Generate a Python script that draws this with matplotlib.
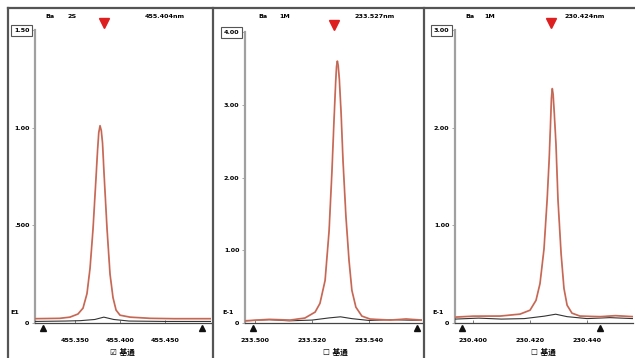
import matplotlib
matplotlib.use("Agg")
import matplotlib.pyplot as plt
from matplotlib.lines import Line2D

plt.rcParams['font.family'] = ['DejaVu Sans', 'Noto Sans CJK JP']

# ---------------- data ----------------
elements = ["Ba", "Ba", "Ba"]
orders = ["2S", "1M", "1M"]
wavelengths = ["455.404nm", "233.527nm", "230.424nm"]
checked = [True, False, False]
check_text = "基通"
scale_labels = ["E1", "E-1", "E-1"]

ylims = [1.5, 4.0, 3.0]
yticks = [[0, 0.5, 1.0, 1.5], [0, 1, 2, 3, 4], [0, 1, 2, 3]]
ytick_labels = [["0", ".500", "1.00", "1.50"],
                ["0", "1.00", "2.00", "3.00", "4.00"],
                ["0", "1.00", "2.00", "3.00"]]
xlims = [(455.3056, 455.501), (233.4965, 233.5586), (230.3937, 230.4561)]
xticks = [[455.350, 455.400, 455.450], [233.500, 233.520, 233.540], [230.400, 230.420, 230.440]]
xtick_labels = [["455.350", "455.400", "455.450"],
                ["233.500", "233.520", "233.540"],
                ["230.400", "230.420", "230.440"]]
peak_marker_x = [455.382, 233.5277, 230.4274]
window_x = [(455.3144, 455.491), (233.4993, 233.5569), (230.3961, 230.4446)]

# sample spectra
x1 = [455.3056, 455.3333, 455.3444, 455.3533, 455.3589, 455.3633, 455.3667, 455.3700,
      455.3733, 455.3750, 455.3764, 455.3778, 455.3792, 455.3806, 455.3822, 455.3856,
      455.3889, 455.3922, 455.3956, 455.4000, 455.4111, 455.4333, 455.4600, 455.5010]
y1 = [0.022, 0.024, 0.030, 0.046, 0.076, 0.150, 0.280, 0.480,
      0.740, 0.880, 0.975, 1.010, 0.985, 0.920, 0.770, 0.480,
      0.250, 0.130, 0.066, 0.040, 0.030, 0.024, 0.022, 0.022]
x2 = [233.4965, 233.5050, 233.5123, 233.5175, 233.5211, 233.5228, 233.5246, 233.5260,
      233.5270, 233.5277, 233.5283, 233.5286, 233.5289, 233.5292, 233.5296, 233.5302,
      233.5309, 233.5319, 233.5330, 233.5340, 233.5354, 233.5375, 233.5404, 233.5474,
      233.5530, 233.5586]
y2 = [0.030, 0.050, 0.040, 0.068, 0.150, 0.270, 0.585, 1.265,
      2.080, 2.760, 3.300, 3.520, 3.600, 3.540, 3.350, 2.900,
      2.220, 1.470, 0.857, 0.449, 0.218, 0.095, 0.054, 0.040,
      0.055, 0.040]
x3 = [230.3937, 230.4000, 230.4095, 230.4165, 230.4200, 230.4221, 230.4235, 230.4249,
      230.4260, 230.4267, 230.4272, 230.4275, 230.4278, 230.4281, 230.4285, 230.4291,
      230.4298, 230.4309, 230.4319, 230.4330, 230.4347, 230.4375, 230.4446, 230.4500,
      230.4561]
y3 = [0.060, 0.070, 0.071, 0.091, 0.131, 0.232, 0.404, 0.758,
      1.263, 1.667, 2.050, 2.300, 2.400, 2.340, 2.150, 1.830,
      1.263, 0.707, 0.354, 0.182, 0.101, 0.071, 0.065, 0.075,
      0.065]
# blank spectra
bx1 = [455.3056, 455.3390, 455.3560, 455.3720, 455.3820, 455.3930, 455.4100, 455.4500, 455.5010]
by1 = [0.008, 0.010, 0.012, 0.018, 0.030, 0.018, 0.010, 0.008, 0.008]
bx2 = [233.4965, 233.5050, 233.5120, 233.5200, 233.5260, 233.5300, 233.5340, 233.5400, 233.5480, 233.5586]
by2 = [0.030, 0.045, 0.030, 0.040, 0.070, 0.085, 0.060, 0.035, 0.045, 0.035]
bx3 = [230.3937, 230.4020, 230.4100, 230.4180, 230.4250, 230.4290, 230.4330, 230.4400, 230.4480, 230.4561]
by3 = [0.040, 0.050, 0.040, 0.045, 0.070, 0.090, 0.065, 0.045, 0.055, 0.045]

spectra = [(x1, y1), (x2, y2), (x3, y3)]
blanks = [(bx1, by1), (bx2, by2), (bx3, by3)]

# ---------------- layout ----------------
W, H = 635, 358
fig = plt.figure(figsize=(W / 100, H / 100), dpi=100)

panel_px = [(35, 211, 30), (245, 422, 32), (455, 633, 30)]  # left, right, top(px)
bottom_px = 323
head_px = [(50, 72, 165), (263, 285, 375), (470, 490, 585)]
scale_px = [15, 228, 438]
check_px = [122, 335, 543]

def fx(px):
    return px / W

def fy(py):
    return 1 - py / H

# panel frames
frame_col = '#555555'
fig.add_artist(Line2D([fx(8), fx(635)], [fy(8), fy(8)], color=frame_col, lw=1.6))
for vx in (8, 213, 424):
    fig.add_artist(Line2D([fx(vx), fx(vx)], [fy(8), fy(358)], color=frame_col, lw=1.6))

fs = 4.6
for i in range(3):
    l, r, t = panel_px[i]
    ax = fig.add_axes([fx(l), fy(bottom_px), (r - l) / W, (bottom_px - t) / H])
    ax.set_xlim(*xlims[i])
    ax.set_ylim(0, ylims[i])
    for s in ('top', 'right'):
        ax.spines[s].set_visible(False)
    ax.spines['left'].set_color('#a0a0a0')
    ax.spines['left'].set_linewidth(1.6)
    ax.spines['bottom'].set_color('#444444')
    ax.spines['bottom'].set_linewidth(0.9)

    ax.set_yticks(yticks[i])
    ax.set_yticklabels(ytick_labels[i], fontsize=fs, fontweight='bold')
    ax.tick_params(axis='y', direction='out', length=2.5, width=0.6, color='#999999', pad=1.5)
    ax.set_xticks(xticks[i])
    ax.set_xticklabels(xtick_labels[i], fontsize=fs, fontweight='bold')
    ax.tick_params(axis='x', direction='in', length=2, width=0.6, color='#666666', pad=11)
    top_lbl = ax.get_yticklabels()[-1]
    top_lbl.set_bbox(dict(boxstyle='square,pad=0.45', fc='white', ec='#555555', lw=0.8))

    bx, by = blanks[i]
    ax.plot(bx, by, color='#333333', lw=0.8, zorder=3)
    sx, sy = spectra[i]
    ax.plot(sx, sy, color='#e8735c', lw=1.3, zorder=4)
    ax.plot(sx, sy, color='#8a6a62', lw=0.5, zorder=5, alpha=0.8)

    # window triangles
    ax.plot(window_x[i], [-0.018 * ylims[i]] * 2, linestyle='none', marker='^',
            markersize=5, color='#111111', clip_on=False, zorder=6)
    # peak marker
    ax.plot([peak_marker_x[i]], [1.025 * ylims[i]], linestyle='none', marker='v',
            markersize=7, color='#dd1f1f', clip_on=False, zorder=6)

    e, o, w = head_px[i]
    fig.text(fx(e), fy(16), elements[i], fontsize=fs, fontweight='bold', ha='center', va='center')
    fig.text(fx(o), fy(16), orders[i], fontsize=fs, fontweight='bold', ha='center', va='center')
    fig.text(fx(w), fy(16), wavelengths[i], fontsize=fs, fontweight='bold', ha='center', va='center')
    fig.text(fx(scale_px[i]), fy(312), scale_labels[i], fontsize=fs, fontweight='bold',
             ha='center', va='center')
    box = '\u2611' if checked[i] else '\u2610'
    fig.text(fx(check_px[i]), fy(352), box + ' ' + check_text, fontsize=5.5, fontweight='bold',
             ha='center', va='center', family=['DejaVu Sans', 'Noto Sans CJK JP'])

fig.savefig('out.png', dpi=100, facecolor='white')
